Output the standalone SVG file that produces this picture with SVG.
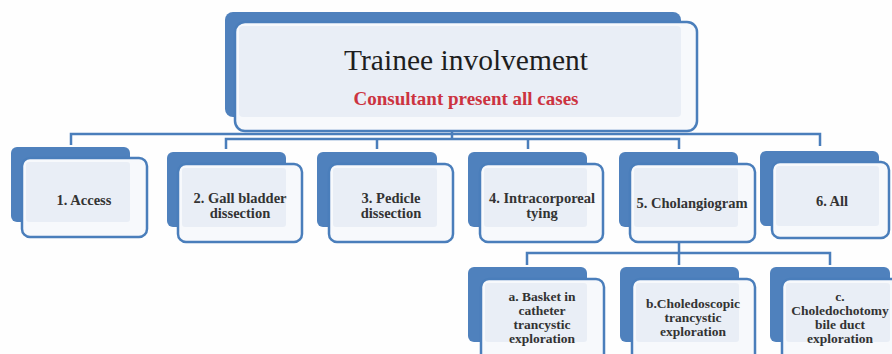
<svg xmlns="http://www.w3.org/2000/svg" width="892" height="354" viewBox="0 0 892 354">
  <style>
    .back { fill: #4F81BD; }
    .front { fill: #F7F9FC; stroke: #4A7EBB; stroke-width: 2.5; }
    .panel { fill: #E9EEF6; }
    .conn { fill: none; stroke: #4A7EBB; stroke-width: 2.5; }
    .lbl { font-family: "Liberation Serif", serif; font-weight: bold; font-size: 14.5px; fill: #333333; text-anchor: middle; }
    .sm { font-size: 13.5px; }
    .title { font-family: "Liberation Serif", serif; font-size: 29.5px; fill: #1E1E1E; text-anchor: middle; }
    .sub { font-family: "Liberation Serif", serif; font-weight: bold; font-size: 19px; fill: #CC3340; text-anchor: middle; }
  </style>
  <rect width="892" height="354" fill="#FEFEFE"/>

  <!-- elbow connectors between the levels -->
  <g id="connectors">
    <path class="conn" d="M452 131 V139"/>
    <path class="conn" d="M71 145 V134 H820 V146"/>
    <path class="conn" d="M226 149 V139 H679 V149"/>
    <path class="conn" d="M377 139 V149"/>
    <path class="conn" d="M528 139 V149"/>
    <path class="conn" d="M679 242 V253"/>
    <path class="conn" d="M527 265 V253 H830 V265"/>
    <path class="conn" d="M679 253 V265"/>
  </g>

  <g id="root">
    <rect class="back" x="225" y="12" width="456" height="105" rx="8"/>
    <rect class="front" x="235" y="22" width="462" height="109" rx="10"/>
    <rect class="panel" x="239" y="26" width="442" height="91" rx="4"/>
    <text class="title" x="466" y="70">Trainee involvement</text>
    <text class="sub" x="466" y="105">Consultant present all cases</text>
  </g>

  <g id="access">
    <rect class="back" x="11" y="147" width="119" height="75" rx="6"/>
    <rect class="front" x="22" y="158" width="125" height="79" rx="8"/>
    <rect class="panel" x="26" y="162" width="104" height="60" rx="3"/>
    <text class="lbl" x="84" y="205">1. Access</text>
  </g>

  <g id="gallbladder">
    <rect class="back" x="167" y="152" width="119" height="75" rx="6"/>
    <rect class="front" x="178" y="164" width="124" height="78" rx="8"/>
    <rect class="panel" x="182" y="168" width="104" height="59" rx="3"/>
    <text class="lbl" x="240" y="203">2. Gall bladder</text>
    <text class="lbl" x="240" y="218">dissection</text>
  </g>

  <g id="pedicle">
    <rect class="back" x="317" y="152" width="120" height="75" rx="6"/>
    <rect class="front" x="329" y="164" width="124" height="78" rx="8"/>
    <rect class="panel" x="333" y="168" width="104" height="59" rx="3"/>
    <text class="lbl" x="391" y="203">3. Pedicle</text>
    <text class="lbl" x="391" y="218">dissection</text>
  </g>

  <g id="tying">
    <rect class="back" x="468" y="152" width="119" height="75" rx="6"/>
    <rect class="front" x="480" y="164" width="123" height="78" rx="8"/>
    <rect class="panel" x="484" y="168" width="103" height="59" rx="3"/>
    <text class="lbl" x="542" y="203">4. Intracorporeal</text>
    <text class="lbl" x="542" y="218">tying</text>
  </g>

  <g id="cholangiogram">
    <rect class="back" x="619" y="152" width="119" height="75" rx="6"/>
    <rect class="front" x="630" y="164" width="125" height="78" rx="8"/>
    <rect class="panel" x="634" y="168" width="104" height="59" rx="3"/>
    <text class="lbl" x="692" y="208">5. Cholangiogram</text>
  </g>

  <g id="all">
    <rect class="back" x="760" y="151" width="119" height="75" rx="6"/>
    <rect class="front" x="772" y="162" width="117" height="76" rx="8"/>
    <rect class="panel" x="776" y="166" width="103" height="60" rx="3"/>
    <text class="lbl" x="832" y="206">6. All</text>
  </g>

  <g id="basket">
    <rect class="back" x="468" y="267" width="119" height="75" rx="6"/>
    <rect class="front" x="481" y="279" width="123" height="85" rx="8"/>
    <rect class="panel" x="485" y="283" width="102" height="59" rx="3"/>
    <text class="lbl sm" x="542" y="301">a. Basket in</text>
    <text class="lbl sm" x="542" y="315">catheter</text>
    <text class="lbl sm" x="542" y="329">trancystic</text>
    <text class="lbl sm" x="542" y="343">exploration</text>
  </g>

  <g id="choledoscopic">
    <rect class="back" x="620" y="267" width="119" height="75" rx="6"/>
    <rect class="front" x="632" y="279" width="123" height="85" rx="8"/>
    <rect class="panel" x="636" y="283" width="103" height="59" rx="3"/>
    <text class="lbl sm" x="693" y="308">b.Choledoscopic</text>
    <text class="lbl sm" x="693" y="322">trancystic</text>
    <text class="lbl sm" x="693" y="336">exploration</text>
  </g>

  <g id="choledochotomy">
    <rect class="back" x="770" y="267" width="120" height="75" rx="6"/>
    <rect class="front" x="782" y="279" width="122" height="85" rx="8"/>
    <rect class="panel" x="786" y="283" width="104" height="59" rx="3"/>
    <text class="lbl sm" x="840" y="301">c.</text>
    <text class="lbl sm" x="840" y="315">Choledochotomy</text>
    <text class="lbl sm" x="840" y="329">bile duct</text>
    <text class="lbl sm" x="840" y="343">exploration</text>
  </g>
</svg>
